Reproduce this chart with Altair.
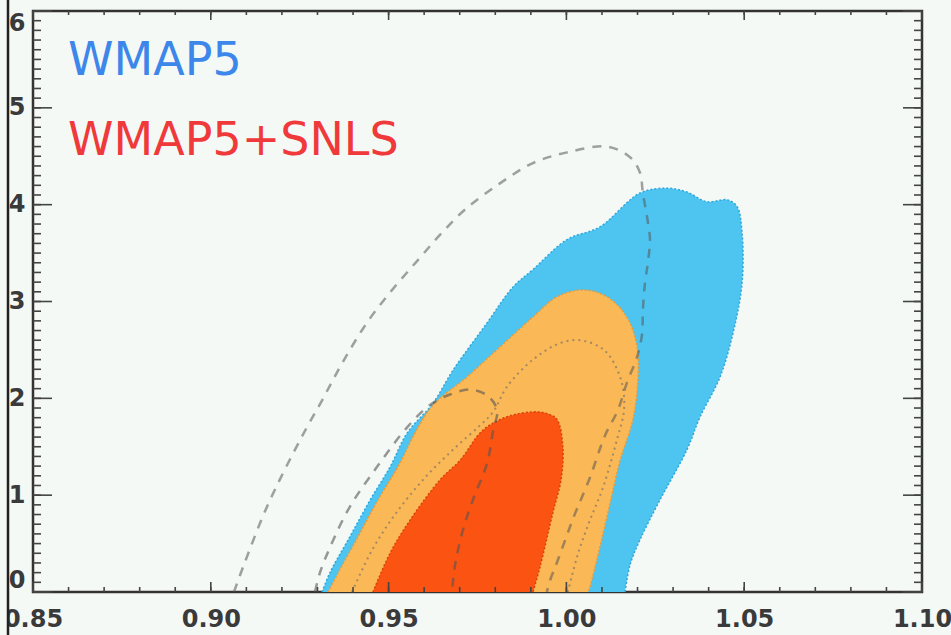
import altair as alt
import pandas as pd
import numpy as np

# ---- contour data (x = n_s-like parameter, y = second parameter)
blue_x = [0.9313, 0.9335, 0.9391, 0.9448, 0.9504, 0.9552, 0.9625, 0.9681, 0.9777, 0.9850, 0.9906,
          1.0002, 1.0094, 1.0207, 1.0283, 1.0339, 1.0395, 1.0452, 1.0480, 1.0494, 1.0494, 1.0469,
          1.0432, 1.0376, 1.0339, 1.0263, 1.0207, 1.0179, 1.0165]
blue_y = [0.00, 0.20, 0.57, 0.95, 1.29, 1.64, 1.95, 2.29, 2.78, 3.15, 3.33,
          3.64, 3.77, 4.12, 4.17, 4.13, 4.03, 4.05, 3.98, 3.71, 3.19, 2.68,
          2.22, 1.81, 1.47, 0.95, 0.54, 0.28, 0.00]

orange_x = [0.9330, 0.9358, 0.9414, 0.9470, 0.9526, 0.9574, 0.9625, 0.9720, 0.9813, 0.9906, 0.9974,
            1.0047, 1.0114, 1.0170, 1.0199, 1.0201, 1.0187, 1.0151, 1.0123, 1.0094, 1.0066, 1.0061]
orange_y = [0.00, 0.20, 0.57, 0.95, 1.29, 1.64, 1.93, 2.22, 2.53, 2.84, 3.05,
            3.12, 3.05, 2.84, 2.53, 2.19, 1.78, 1.36, 0.92, 0.46, 0.05, 0.00]

red_x = [0.9456, 0.9504, 0.9560, 0.9645, 0.9701, 0.9765, 0.9833, 0.9906, 0.9948, 0.9974, 0.9990,
         0.9985, 0.9962, 0.9926, 0.9906]
red_y = [0.00, 0.40, 0.74, 1.16, 1.36, 1.67, 1.81, 1.86, 1.84, 1.78, 1.50,
         1.16, 0.82, 0.26, 0.00]

dotted_x = [0.9397, 0.9453, 0.9518, 0.9602, 0.9687, 0.9757, 0.9794, 0.9833, 0.9906, 0.9982, 1.0038,
            1.0094, 1.0123, 1.0156, 1.0162, 1.0142, 1.0103, 1.0066, 1.0033, 1.0004]
dotted_y = [0.00, 0.43, 0.80, 1.18, 1.49, 1.72, 1.86, 2.12, 2.40, 2.57, 2.60,
            2.53, 2.43, 2.16, 1.88, 1.57, 1.08, 0.74, 0.40, 0.00]

small_dash_x = [0.9293, 0.9307, 0.9335, 0.9391, 0.9467, 0.9552, 0.9616, 0.9673, 0.9729, 0.9777, 0.9805,
                0.9794, 0.9777, 0.9737, 0.9709, 0.9687, 0.9678]
small_dash_y = [0.00, 0.20, 0.46, 0.88, 1.29, 1.70, 1.93, 2.04, 2.09, 2.03, 1.88,
                1.67, 1.33, 0.95, 0.64, 0.28, 0.00]

big_dash_x = [0.9065, 0.9091, 0.9158, 0.9251, 0.9313, 0.9372, 0.9439, 0.9510, 0.9583, 0.9645, 0.9715,
              0.9813, 0.9906, 1.0002, 1.0114, 1.0179, 1.0207, 1.0215, 1.0227, 1.0235, 1.0229, 1.0221,
              1.0215, 1.0213, 1.0199, 1.0170, 1.0145, 1.0109, 1.0066, 1.0019, 0.9976, 0.9954, 0.9945]
big_dash_y = [0.00, 0.26, 0.88, 1.57, 1.98, 2.38, 2.78, 3.12, 3.43, 3.69, 3.95,
              4.22, 4.43, 4.54, 4.60, 4.49, 4.33, 4.12, 3.87, 3.64, 3.40, 3.19,
              2.91, 2.67, 2.43, 2.16, 1.88, 1.62, 1.18, 0.76, 0.33, 0.12, 0.00]

x_ticks = [0.85, 0.90, 0.95, 1.00, 1.05, 1.10]
y_ticks = [0, 1, 2, 3, 4, 5, 6]
legend_labels = ["WMAP5", "WMAP5+SNLS"]
legend_colors = ["#3d86ea", "#f0393a"]

# ---- layout constants
W, H = 889, 581
BG = "#f5f9f6"
FONT = "DejaVu Sans"
INTERP = "catmull-rom"

xs = alt.Scale(domain=[0.85, 1.10], nice=False, zero=False)
ys = alt.Scale(domain=[0, 6], nice=False, zero=False)


def poly_df(xv, yv):
    return pd.DataFrame({"x": xv, "y": yv, "i": list(range(len(xv)))})


def enc(ch, first=False):
    if first:
        return ch.encode(
            x=alt.X("x:Q", scale=xs,
                    axis=alt.Axis(values=x_ticks, format=".2f", ticks=False, domain=False, grid=False,
                                  labelFont=FONT, labelFontSize=24, labelFontWeight="bold",
                                  labelColor="#3a3a3a", labelPadding=15, labelFlush=False,
                                  labelOverlap=False, title=None)),
            y=alt.Y("y:Q", scale=ys,
                    axis=alt.Axis(values=y_ticks, format="d", ticks=False, domain=False, grid=False,
                                  labelFont=FONT, labelFontSize=24, labelFontWeight="bold",
                                  labelColor="#3a3a3a", labelPadding=8, labelFlush=True,
                                  labelOverlap=False, title=None)),
            order="i:Q",
        )
    return ch.encode(x=alt.X("x:Q", scale=xs), y=alt.Y("y:Q", scale=ys), order="i:Q")


blue = enc(alt.Chart(poly_df(blue_x, blue_y)).mark_line(
    fill="#4ec5f0", stroke="#2ea6dc", strokeWidth=1.5, strokeDash=[2, 2], interpolate=INTERP), first=True)
orange = enc(alt.Chart(poly_df(orange_x, orange_y)).mark_line(
    fill="#fab856", stroke="#e89a3a", strokeWidth=1.5, strokeDash=[2, 2], interpolate=INTERP))
red = enc(alt.Chart(poly_df(red_x, red_y)).mark_line(
    fill="#fa5312", stroke="#d8420a", strokeWidth=1.5, strokeDash=[2, 2], interpolate=INTERP))
dotted = enc(alt.Chart(poly_df(dotted_x, dotted_y)).mark_line(
    stroke="#6b6b6b", strokeWidth=2, strokeDash=[2, 4], opacity=0.6, interpolate=INTERP))
small_dash = enc(alt.Chart(poly_df(small_dash_x, small_dash_y)).mark_line(
    stroke="#555555", strokeWidth=2.5, strokeDash=[9, 8], opacity=0.6, interpolate=INTERP))
big_dash = enc(alt.Chart(poly_df(big_dash_x, big_dash_y)).mark_line(
    stroke="#555555", strokeWidth=2.5, strokeDash=[9, 8], opacity=0.55, interpolate=INTERP))

# ---- inward ticks on all four sides
y_minor = pd.DataFrame({"v": [round(v, 2) for v in np.arange(0, 6.0001, 0.1)]})
y_major = pd.DataFrame({"v": y_ticks})
x_minor = pd.DataFrame({"v": [round(v, 3) for v in np.arange(0.85, 1.10001, 0.01)]})
x_major = pd.DataFrame({"v": x_ticks})
TC = "#444444"


def yt(df, length, right=False):
    x0 = W if right else 0
    x1 = W - length if right else length
    return alt.Chart(df).mark_rule(color=TC, strokeWidth=1.6).encode(
        y=alt.Y("v:Q", scale=ys), x=alt.value(x0), x2=alt.value(x1))


def xt(df, length, top=False):
    y0 = 0 if top else H
    y1 = length if top else H - length
    return alt.Chart(df).mark_rule(color=TC, strokeWidth=1.6).encode(
        x=alt.X("v:Q", scale=xs), y=alt.value(y0), y2=alt.value(y1))


ticks = [yt(y_minor, 8), yt(y_major, 19), yt(y_minor, 8, True), yt(y_major, 19, True),
         xt(x_minor, 5), xt(x_major, 10), xt(x_minor, 4, True), xt(x_major, 9, True)]

# ---- legend text
leg = pd.DataFrame({"t": legend_labels, "c": legend_colors, "yy": [64, 144]})
legend = alt.Chart(leg).mark_text(
    font=FONT, fontSize=46, align="left", baseline="alphabetic").encode(
    text="t:N", x=alt.value(35), y=alt.Y("yy:Q", scale=None),
    color=alt.Color("c:N", scale=None))

# ---- left edge of the captured frame
mask = alt.Chart(pd.DataFrame({"a": [0]})).mark_rect(color=BG).encode(
    x=alt.value(-40), x2=alt.value(-25), y=alt.value(-11), y2=alt.value(H + 43))
edge = alt.Chart(pd.DataFrame({"a": [0]})).mark_rule(color="#222222", strokeWidth=2.5).encode(
    x=alt.value(-25), y=alt.value(-11), y2=alt.value(H + 43))

chart = alt.layer(blue, orange, red, dotted, small_dash, big_dash, *ticks, legend, mask, edge).properties(
    width=W, height=H, background=BG,
    padding={"left": 33, "top": 11, "right": 29, "bottom": 43},
    autosize=alt.AutoSizeParams(type="none"),
).configure_view(stroke="#333333", strokeWidth=2.5)

chart.save("out.html", embed_options={"renderer": "svg", "actions": False})
